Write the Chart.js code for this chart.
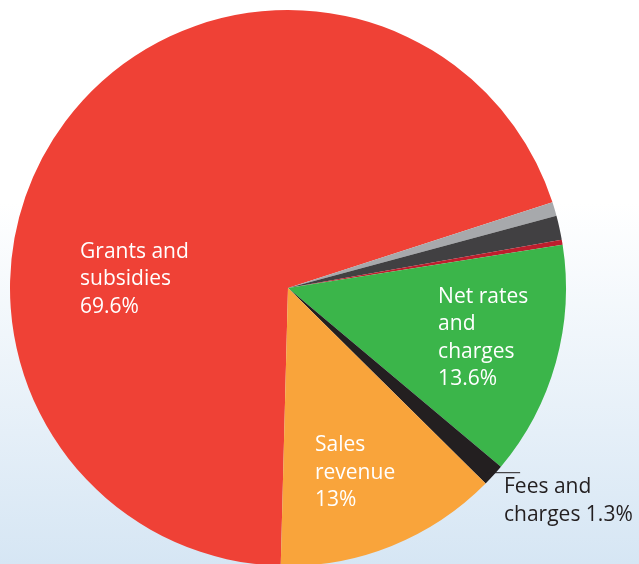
<!DOCTYPE html>
<html lang="en">
<head>
  <meta charset="UTF-8">
  <title>Revenue sources</title>
  <script src="https://cdn.jsdelivr.net/npm/chart.js"></script>
  <style>
    html, body {
      margin: 0;
      padding: 0;
      width: 639px;
      height: 564px;
      overflow: hidden;
      background: linear-gradient(to bottom, #ffffff 0%, #ffffff 36%, #d6e6f4 100%);
    }
    #wrap {
      position: absolute;
      left: 0;
      top: 0;
      width: 639px;
      height: 576px;
    }
  </style>
</head>
<body>
  <div id="wrap">
    <canvas id="revenueChart" width="639" height="576"></canvas>
  </div>

  <script>
    // slice order is clockwise, starting with the big red one
    const categories = ['Grants and subsidies', 'Other (grey)', 'Other (dark grey)', 'Other (dark red)',
                        'Net rates and charges', 'Fees and charges', 'Sales revenue'];
    const shares = [69.6, 0.8, 1.4, 0.3, 13.6, 1.3, 13];
    const colours = ['#ef4136', '#a7a9ac', '#414042', '#be1e2d', '#3bb54a', '#231f20', '#f9a43b'];

    // label text per slice (null = no label)
    const labelLines = [
      ['Grants and', 'subsidies', '69.6%'],
      null, null, null,
      ['Net rates', 'and', 'charges', '13.6%'],
      ['Fees and', 'charges 1.3%'],
      ['Sales', 'revenue', '13%']
    ];

    // where each label's first line sits, as fractions of the radius from the centre
    const labelSpots = [
      { dx: -0.748, dy: -0.13 },
      null, null, null,
      { dx: 0.540, dy: 0.032 },
      { dx: 0.777, dy: 0.716 },
      { dx: 0.097, dy: 0.565 }
    ];

    const sliceLabels = {
      id: 'sliceLabels',
      afterDatasetsDraw(chart) {
        const ctx = chart.ctx;
        const arc = chart.getDatasetMeta(0).data[0];
        const cx = arc.x, cy = arc.y, r = arc.outerRadius;
        ctx.save();
        ctx.font = '21px "Open Sans"';
        ctx.textBaseline = 'middle';
        ctx.textAlign = 'left';
        labelLines.forEach((lines, i) => {
          if (!lines) return;
          const spot = labelSpots[i];
          const x = cx + spot.dx * r;
          const y = cy + spot.dy * r;
          ctx.fillStyle = (i === 5) ? '#231f20' : '#ffffff';
          lines.forEach((t, k) => ctx.fillText(t, x, y + k * 27.5));
        });

        // leader line for the thin black slice
        const fees = chart.getDatasetMeta(0).data[5];
        const mid = (fees.startAngle + fees.endAngle) / 2;
        const px = cx + Math.cos(mid) * r * 0.97;
        const py = cy + Math.sin(mid) * r * 0.97 + 3;
        ctx.strokeStyle = '#231f20';
        ctx.lineWidth = 1;
        ctx.beginPath();
        ctx.moveTo(px, py);
        ctx.lineTo(cx + 0.835 * r, py);
        ctx.stroke();
        ctx.restore();
      }
    };

    const ctx = document.getElementById('revenueChart').getContext('2d');
    new Chart(ctx, {
      type: 'pie',
      data: {
        labels: categories,
        datasets: [{
          data: shares,
          backgroundColor: colours,
          borderWidth: 0,
          hoverOffset: 0
        }]
      },
      options: {
        responsive: false,
        animation: false,
        rotation: 181.5,
        layout: { padding: { left: 10, right: 73, top: 10, bottom: 10 } },
        plugins: {
          legend: { display: false },
          tooltip: { enabled: false }
        }
      },
      plugins: [sliceLabels]
    });
  </script>
</body>
</html>
